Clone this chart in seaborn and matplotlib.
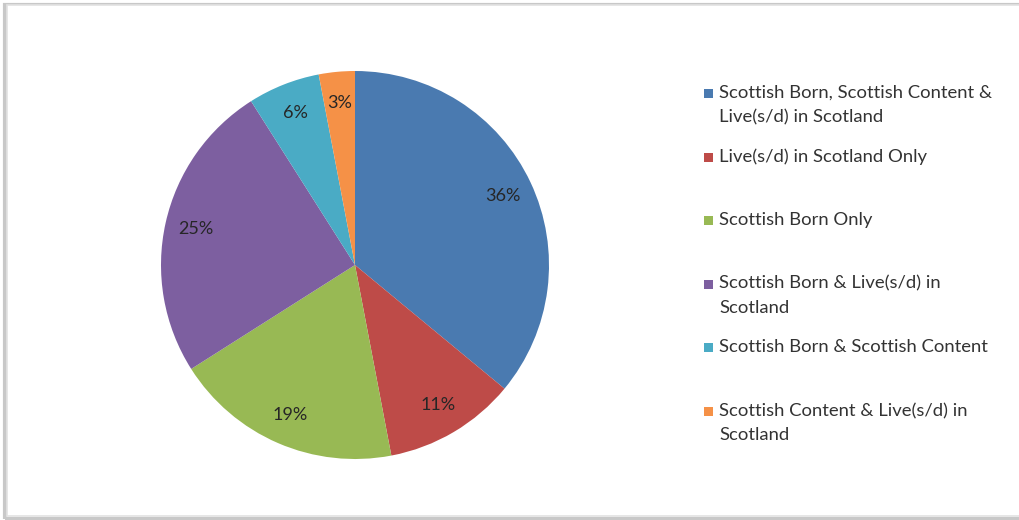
import matplotlib
matplotlib.use("Agg")
import matplotlib.pyplot as plt
from matplotlib.patches import Rectangle
import seaborn as sns

# Datos del gráfico
categorias = ['Scottish Born, Scottish Content &\nLive(s/d) in Scotland',
              'Live(s/d) in Scotland Only',
              'Scottish Born Only',
              'Scottish Born & Live(s/d) in\nScotland',
              'Scottish Born & Scottish Content',
              'Scottish Content & Live(s/d) in\nScotland']
porcentajes = [36, 11, 19, 25, 6, 3]
colores = ['#4A7AB0', '#BE4B48', '#98B954', '#7D5FA0', '#4AABC5', '#F59147']

sns.set_theme(style="white")
plt.rcParams['font.family'] = ['Lato', 'DejaVu Sans']

fig = plt.figure(figsize=(10.2, 5.2), dpi=100)
fig.patch.set_facecolor('white')

# Marco con sombra
fig.patches.append(Rectangle((5 / 1020, 1 / 520), 1.2, 514 / 520, transform=fig.transFigure,
                             facecolor='none', edgecolor='#c8c8c8', linewidth=3, zorder=-2))
fig.patches.append(Rectangle((7 / 1020, 4 / 520), 1.2, 511 / 520, transform=fig.transFigure,
                             facecolor='white', edgecolor='#e2e2e2', linewidth=1.2, zorder=-1))

ax = fig.add_axes([(355 - 194) / 1020, (255 - 194) / 520, 388 / 1020, 388 / 520])
ax.set_zorder(1)
ax.patch.set_alpha(0)
palette = sns.color_palette(colores)
wedges, texts, autotexts = ax.pie(porcentajes, colors=palette, startangle=90, counterclock=False,
                                  autopct='%d%%', pctdistance=0.84,
                                  wedgeprops=dict(linewidth=0),
                                  textprops=dict(fontsize=13, color='#262626'))
ax.set_aspect('equal')
ax.set_xlim(-1, 1)
ax.set_ylim(-1, 1)

# Leyenda manual (entradas alineadas arriba en franjas iguales, como Excel)
top = 85
paso = 63.6
for i, (cat, col) in enumerate(zip(categorias, palette)):
    y = top + i * paso
    fig.patches.append(Rectangle((704 / 1020, 1 - (y + 13) / 520), 9 / 1020, 9 / 520,
                                 transform=fig.transFigure, facecolor=col, edgecolor='none'))
    fig.text(719 / 1020, 1 - y / 520, cat, ha='left', va='top', fontsize=13.3,
             color='#333333', linespacing=1.6)

plt.savefig('out.png', dpi=100)
